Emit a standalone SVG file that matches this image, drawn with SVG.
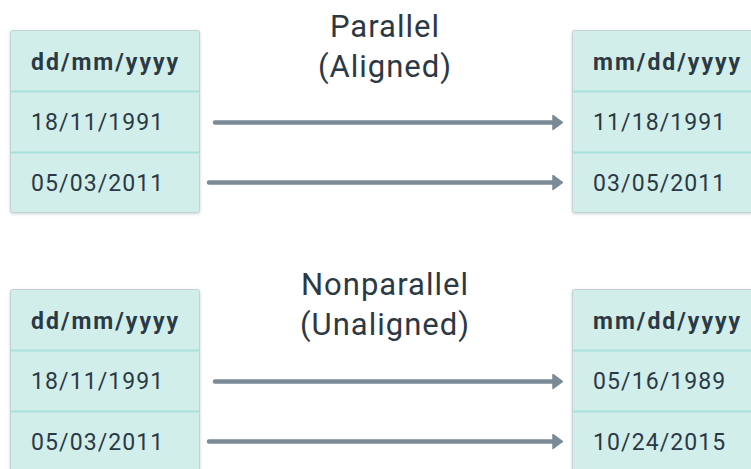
<svg xmlns="http://www.w3.org/2000/svg" width="751" height="469" viewBox="0 0 751 469">
  <defs>
    <filter id="shadow" x="-10%" y="-10%" width="120%" height="120%">
      <feDropShadow dx="0" dy="1" stdDeviation="1.5" flood-color="#5a6a70" flood-opacity="0.3"/>
    </filter>
    <marker id="arrow" viewBox="0 0 11 16" refX="3" refY="8" markerWidth="11" markerHeight="16" markerUnits="userSpaceOnUse" orient="auto">
      <path d="M1,1 L10.5,8 L1,15 Z" fill="#7a8a96" stroke="#7a8a96" stroke-width="1.5" stroke-linejoin="round"/>
    </marker>
    <style>
      .card { fill: #d1eeeb; stroke: #c3d3d3; stroke-width: 1; filter: url(#shadow); }
      .rule { stroke: #a9e0d9; stroke-width: 2; }
      .head { font-family: Roboto, "Liberation Sans", sans-serif; font-weight: bold; font-size: 23px; letter-spacing: 2px; fill: #2b3945; }
      .cell { font-family: Roboto, "Liberation Sans", sans-serif; font-size: 23px; letter-spacing: 1.1px; fill: #2b3945; }
      .title { font-family: Roboto, "Liberation Sans", sans-serif; font-size: 31px; letter-spacing: 1px; fill: #2b3945; text-anchor: middle; }
      .link { stroke: #7a8a96; stroke-width: 4.5; stroke-linecap: round; fill: none; marker-end: url(#arrow); }
    </style>
  </defs>

  <!-- Section titles -->
  <g id="title-parallel">
    <text class="title" x="385" y="37">Parallel</text>
    <text class="title" x="385" y="77">(Aligned)</text>
  </g>
  <g id="title-nonparallel">
    <text class="title" x="385" y="295">Nonparallel</text>
    <text class="title" x="385" y="335">(Unaligned)</text>
  </g>

  <!-- Parallel: source table -->
  <g id="src-parallel">
    <rect class="card" x="10.5" y="30.5" width="189" height="182" rx="2"/>
    <line class="rule" x1="11" y1="91.5" x2="199" y2="91.5"/>
    <line class="rule" x1="11" y1="152.5" x2="199" y2="152.5"/>
    <text class="head" x="31" y="70">dd/mm/yyyy</text>
    <text class="cell" x="31" y="130">18/11/1991</text>
    <text class="cell" x="31" y="191">05/03/2011</text>
  </g>

  <!-- Parallel: target table -->
  <g id="dst-parallel">
    <rect class="card" x="572.5" y="30.5" width="200" height="182" rx="2"/>
    <line class="rule" x1="573" y1="91.5" x2="751" y2="91.5"/>
    <line class="rule" x1="573" y1="152.5" x2="751" y2="152.5"/>
    <text class="head" x="593" y="70">mm/dd/yyyy</text>
    <text class="cell" x="593" y="130">11/18/1991</text>
    <text class="cell" x="593" y="191">03/05/2011</text>
  </g>

  <!-- Nonparallel: source table -->
  <g id="src-nonparallel">
    <rect class="card" x="10.5" y="289.5" width="189" height="200" rx="2"/>
    <line class="rule" x1="11" y1="350.5" x2="199" y2="350.5"/>
    <line class="rule" x1="11" y1="411.5" x2="199" y2="411.5"/>
    <text class="head" x="31" y="329">dd/mm/yyyy</text>
    <text class="cell" x="31" y="389">18/11/1991</text>
    <text class="cell" x="31" y="450">05/03/2011</text>
  </g>

  <!-- Nonparallel: target table -->
  <g id="dst-nonparallel">
    <rect class="card" x="572.5" y="289.5" width="200" height="200" rx="2"/>
    <line class="rule" x1="573" y1="350.5" x2="751" y2="350.5"/>
    <line class="rule" x1="573" y1="411.5" x2="751" y2="411.5"/>
    <text class="head" x="593" y="329">mm/dd/yyyy</text>
    <text class="cell" x="593" y="389">05/16/1989</text>
    <text class="cell" x="593" y="450">10/24/2015</text>
  </g>

  <!-- Row mappings -->
  <g id="connectors">
    <line class="link" x1="215" y1="122.5" x2="555" y2="122.5"/>
    <line class="link" x1="209" y1="182.5" x2="555" y2="182.5"/>
    <line class="link" x1="215" y1="381.5" x2="555" y2="381.5"/>
    <line class="link" x1="209" y1="441.5" x2="555" y2="441.5"/>
  </g>
</svg>
